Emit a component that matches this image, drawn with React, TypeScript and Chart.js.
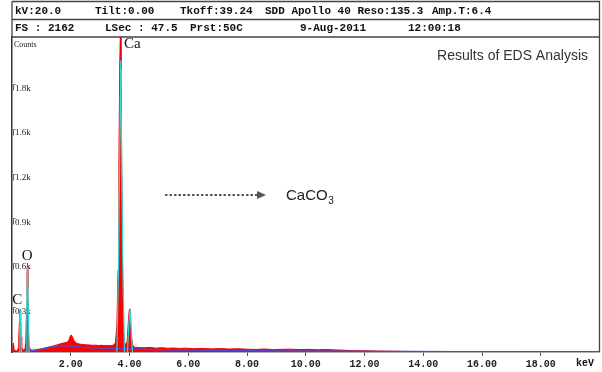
import React, { useEffect, useRef } from "react";
import { Chart, registerables } from "chart.js";

Chart.register(...registerables);

// ---- data ----
const energyKeV = [
  0, 0.03, 0.05, 0.07, 0.1, 0.14, 0.18, 0.21, 0.23, 0.25, 0.27, 0.28, 0.29, 0.31, 0.33, 0.36, 0.4, 0.44, 0.47,
  0.49, 0.51, 0.525, 0.54, 0.56, 0.58, 0.62, 0.68, 0.75, 0.82, 0.9, 1.0, 1.1, 1.2, 1.3, 1.4, 1.5, 1.6, 1.7, 1.8,
  1.88, 1.94, 1.98, 2.02, 2.06, 2.1, 2.16, 2.24, 2.34, 2.44, 2.54, 2.64, 2.74, 2.84, 2.94, 3.04, 3.14, 3.24, 3.34,
  3.44, 3.52, 3.57, 3.61, 3.64, 3.67, 3.69, 3.71, 3.74, 3.77, 3.8, 3.84, 3.88, 3.92, 3.96, 3.99, 4.01, 4.03, 4.06,
  4.1, 4.16, 4.3, 4.5, 4.7, 4.9, 5.1, 5.3, 5.5, 5.7, 5.9, 6.2, 6.5, 6.8, 7.1, 7.4, 7.7, 8.0, 8.3, 8.6, 8.9, 9.2,
  9.5, 9.8, 10.1, 10.4, 10.7, 11.0, 11.3, 11.6, 12.0, 12.5, 13.0, 13.5, 14.0, 20.0,
];
const counts = [
  0, 40, 60, 15, 8, 6, 10, 25, 90, 200, 275, 285, 230, 100, 35, 18, 14, 18, 60,
  260, 520, 580, 430, 150, 40, 18, 12, 10, 12, 15, 20, 25, 30, 35, 40, 46, 52, 58, 62,
  66, 80, 105, 115, 100, 80, 64, 56, 52, 50, 48, 47, 45, 46, 44, 45, 43, 44, 42,
  45, 60, 180, 550, 1300, 1950, 2150, 1900, 1100, 420, 130, 60, 45, 70, 200, 280, 290, 240, 120,
  50, 32, 30, 28, 31, 26, 29, 25, 27, 24, 26, 22, 24, 21, 23, 20, 22, 19, 17, 20, 16, 18,
  19, 16, 18, 15, 17, 14, 12, 9, 8, 6, 5, 3, 0, 0,
];

// fitted peak profiles (cyan)
const fitEnergyKeV = [
  0.24, 0.265, 0.285, 0.305, 0.325, 0.33,
  0.48, 0.505, 0.53, 0.555, 0.58, 0.59,
  3.57, 3.63, 3.7, 3.77, 3.83, 3.85,
  3.93, 3.98, 4.02, 4.06, 4.1,
];
const fitCounts = [
  0, 150, 280, 150, 0, null,
  0, 320, 570, 300, 0, null,
  0, 620, 1960, 620, 0, null,
  0, 200, 285, 140, 0,
];

// background continuum (blue)
const bgEnergyKeV = [0.15, 0.4, 0.7, 1.0, 1.3, 1.6, 1.8, 2.0, 2.3, 2.7, 3.2, 3.8, 4.5, 5.5, 6.5, 7.5, 8.5, 9.5, 10.5, 11.5, 12.5, 13.5, 15, 17, 20];
const bgCounts = [0, 4, 10, 20, 32, 42, 46, 40, 34, 29, 25, 22, 18, 14, 12, 10, 8, 7, 6, 5, 4, 3, 2, 1, 0];

const xTickValues = [2, 4, 6, 8, 10, 12, 14, 16, 18];
const yTickValues = [300, 600, 900, 1200, 1500, 1800];
const yTickLabels = ["0.3k", "0.6k", "0.9k", "1.2k", "1.6k", "1.8k"];

const peakLabels = ["C", "O", "Ca"];
const peakLabelKeV = [0.18, 0.52, 4.1];
const peakLabelCounts = [350, 645, 2071];

const headerRow1 = ["kV:20.0", "Tilt:0.00", "Tkoff:39.24", "SDD Apollo 40 Reso:135.3", "Amp.T:6.4"];
const headerRow2 = ["FS : 2162", "LSec : 47.5", "Prst:50C", "9-Aug-2011", "12:00:18"];
const headerRow1X = [15, 95, 180, 265, 432];
const headerRow2X = [15, 105, 190, 300, 408];

const pts = (xs: number[], ys: (number | null)[]) => xs.map((x, i) => ({ x, y: ys[i] }));

const overlay = {
  id: "edsOverlay",
  beforeDraw(chart: any) {
    const c = chart.ctx;
    c.save();
    c.fillStyle = "#fff";
    c.fillRect(0, 0, chart.width, chart.height);
    c.restore();
  },
  afterDraw(chart: any) {
    const c = chart.ctx;
    const xs = chart.scales.x;
    const ys = chart.scales.y;
    const area = chart.chartArea;
    c.save();
    // frame
    c.strokeStyle = "#444";
    c.lineWidth = 1.3;
    c.beginPath();
    c.moveTo(12, 1.5);
    c.lineTo(599.5, 1.5);
    c.lineTo(599.5, area.bottom);
    c.moveTo(12, 19.5);
    c.lineTo(599.5, 19.5);
    c.moveTo(12, area.top);
    c.lineTo(599.5, area.top);
    c.moveTo(12, 1.5);
    c.lineTo(12, area.top);
    c.stroke();

    // small tick brackets next to y labels
    c.strokeStyle = "#666";
    c.lineWidth = 1;
    yTickValues.forEach((v) => {
      const py = Math.round(ys.getPixelForValue(v)) + 0.5;
      c.beginPath();
      c.moveTo(13.5, py);
      c.lineTo(15.5, py);
      c.moveTo(13.5, py);
      c.lineTo(13.5, py + 6);
      c.stroke();
    });

    // header text
    c.fillStyle = "#111";
    c.font = 'bold 11px "Liberation Mono"';
    c.textBaseline = "middle";
    c.textAlign = "left";
    headerRow1.forEach((t, i) => c.fillText(t, headerRow1X[i], 11));
    headerRow2.forEach((t, i) => c.fillText(t, headerRow2X[i], 28.5));

    // Counts
    c.font = '8px "Liberation Serif"';
    c.fillStyle = "#222";
    c.fillText("Counts", 14, 45);

    // peak labels
    c.font = '15px "Liberation Serif"';
    c.fillStyle = "#111";
    c.textAlign = "center";
    peakLabels.forEach((t, i) => {
      const px = xs.getPixelForValue(peakLabelKeV[i]);
      const py = ys.getPixelForValue(peakLabelCounts[i]);
      c.fillText(t, px, py);
    });

    // keV label
    c.font = 'bold 10px "Liberation Mono"';
    c.fillText("keV", 585, 363);

    // Results text
    c.font = '14px "Liberation Sans"';
    c.fillStyle = "#333";
    c.textAlign = "right";
    c.fillText("Results of EDS Analysis", 588, 56);

    // dotted arrow
    c.strokeStyle = "#555";
    c.lineWidth = 2;
    c.setLineDash([2.5, 2]);
    c.beginPath();
    c.moveTo(165, 195);
    c.lineTo(258, 195);
    c.stroke();
    c.setLineDash([]);
    c.fillStyle = "#555";
    c.beginPath();
    c.moveTo(257, 191);
    c.lineTo(266, 195);
    c.lineTo(257, 199);
    c.closePath();
    c.fill();

    // CaCO3
    c.fillStyle = "#222";
    c.textAlign = "left";
    c.font = '15px "Liberation Sans"';
    c.fillText("CaCO", 286, 196);
    const w = c.measureText("CaCO").width;
    c.font = '10px "Liberation Sans"';
    c.fillText("3", 286 + w + 0.5, 201);
    c.restore();
  },
};

export default function App() {
  const ref = useRef<HTMLCanvasElement>(null);
  useEffect(() => {
    document.body.style.margin = "0";
    const chart = new Chart(ref.current!, {
      type: "line",
      data: {
        datasets: [
          {
            label: "Fit",
            data: pts(fitEnergyKeV, fitCounts),
            borderColor: "#2fd6d6",
            borderWidth: 1.2,
            pointRadius: 0,
            fill: false,
            spanGaps: false,
            tension: 0,
            order: 1,
          },
          {
            label: "Background",
            data: pts(bgEnergyKeV, bgCounts),
            borderColor: "#5546c8",
            borderWidth: 1.5,
            pointRadius: 0,
            fill: false,
            tension: 0,
            order: 2,
          },
          {
            label: "Spectrum",
            data: pts(energyKeV, counts),
            borderColor: "#ee0000",
            backgroundColor: "#ff0000",
            borderWidth: 1,
            pointRadius: 0,
            fill: "origin",
            tension: 0,
            order: 3,
          },
        ],
      } as any,
      options: {
        responsive: false,
        animation: false,
        devicePixelRatio: 1,
        layout: { padding: { left: 12, right: 2.5, top: 37, bottom: 0 } },
        plugins: { legend: { display: false }, tooltip: { enabled: false } },
        scales: {
          x: {
            type: "linear",
            min: 0,
            max: 20,
            afterBuildTicks: (axis: any) => {
              axis.ticks = xTickValues.map((v) => ({ value: v }));
            },
            afterFit: (s: any) => {
              s.height = 20;
            },
            ticks: {
              autoSkip: false,
              maxRotation: 0,
              padding: 2,
              color: "#222",
              font: { family: "Liberation Mono", size: 10, weight: "bold" },
              callback: (v: any) => Number(v).toFixed(2),
            },
            grid: { drawOnChartArea: false, drawTicks: true, tickLength: 4, color: "#555" },
            border: { display: true, color: "#666", width: 1.5 },
          },
          y: {
            type: "linear",
            min: 0,
            max: 2118,
            afterBuildTicks: (axis: any) => {
              axis.ticks = yTickValues.map((v) => ({ value: v }));
            },
            afterFit: (s: any) => {
              s.width = 0;
            },
            ticks: {
              mirror: true,
              padding: 3,
              labelOffset: 4,
              color: "#222",
              font: { family: "Liberation Serif", size: 9 },
              callback: (v: any) => {
                const i = yTickValues.indexOf(Number(v));
                return i >= 0 ? yTickLabels[i] : "";
              },
            },
            grid: { drawOnChartArea: false, drawTicks: false },
            border: { display: true, color: "#333", width: 1.5 },
          },
        },
      } as any,
      plugins: [overlay],
    });
    return () => chart.destroy();
  }, []);
  return (
    <div style={{ width: 602, height: 372 }}>
      <canvas ref={ref} width={602} height={372} style={{ display: "block" }} />
    </div>
  );
}
